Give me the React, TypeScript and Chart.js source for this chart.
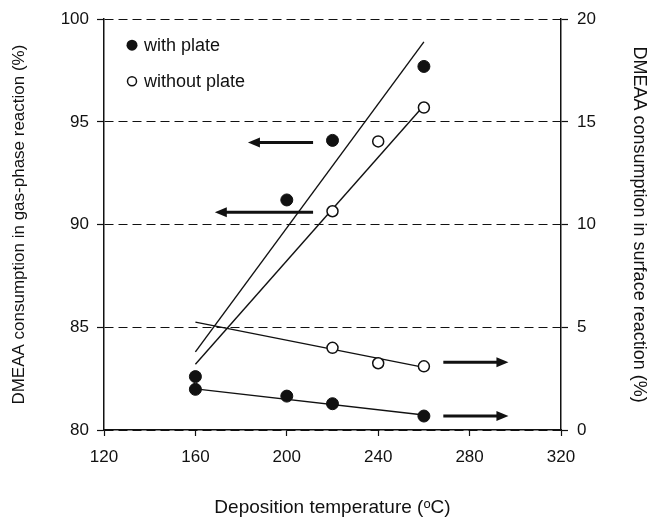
import React, { useEffect, useRef } from "react";
import { Chart, registerables } from "chart.js";

Chart.register(...registerables);

// ---- data ----
const tempsWith = [160, 200, 220, 260];
const gasWithPlate = [82.6, 91.2, 94.1, 97.7];
const surfWithPlate = [1.98, 1.65, 1.28, 0.68];

const tempsWithout = [220, 240, 260];
const gasWithoutPlate = [90.65, 94.05, 95.7];
const surfWithoutPlate = [4.0, 3.25, 3.1];

const fitX = [160, 260];
const gasFitWith = [83.8, 98.9];
const gasFitWithout = [83.2, 95.8];
const surfFitWith = [2.0, 0.73];
const surfFitWithout = [5.25, 3.05];

// arrows: y value (on its axis), start x, tip x
const gasArrowY = [94.0, 90.6];
const gasArrowFrom = [211.5, 211.5];
const gasArrowTo = [183, 168.5];
const surfArrowY = [3.3, 0.68];
const surfArrowFrom = [268.5, 268.5];
const surfArrowTo = [297, 297];

const legendLabels = ["with plate", "without plate"];

const xTitle = "Deposition temperature (ᵒC)";
const yTitle = "DMEAA consumption in gas-phase reaction (%)";
const y2Title = "DMEAA consumption in surface reaction (%)";

const FONT = "'Liberation Sans', Arial, Helvetica, sans-serif";
const INK = "#111";

const toPts = (xs: number[], ys: number[]) => xs.map((x, i) => ({ x, y: ys[i] }));

const arrowPlugin = {
  id: "arrows",
  afterDatasetsDraw(chart: any) {
    const { ctx, scales } = chart;
    const draw = (yScale: any, ys: number[], from: number[], to: number[]) => {
      ys.forEach((yv, i) => {
        const y = yScale.getPixelForValue(yv);
        const x0 = scales.x.getPixelForValue(from[i]);
        const x1 = scales.x.getPixelForValue(to[i]);
        const dir = x1 > x0 ? 1 : -1;
        const headLen = 12;
        const headHalf = 5;
        ctx.save();
        ctx.strokeStyle = INK;
        ctx.fillStyle = INK;
        ctx.lineWidth = 3;
        ctx.beginPath();
        ctx.moveTo(x0, y);
        ctx.lineTo(x1 - dir * headLen + dir * 1, y);
        ctx.stroke();
        ctx.beginPath();
        ctx.moveTo(x1, y);
        ctx.lineTo(x1 - dir * headLen, y - headHalf);
        ctx.lineTo(x1 - dir * headLen, y + headHalf);
        ctx.closePath();
        ctx.fill();
        ctx.restore();
      });
    };
    draw(scales.y, gasArrowY, gasArrowFrom, gasArrowTo);
    draw(scales.y2, surfArrowY, surfArrowFrom, surfArrowTo);
  },
};

const legendPlugin = {
  id: "customLegend",
  afterDraw(chart: any) {
    const { ctx, chartArea } = chart;
    const x = chartArea.left + 28;
    const y0 = chartArea.top + 26;
    const gap = 36;
    ctx.save();
    ctx.font = `18px ${FONT}`;
    ctx.textBaseline = "middle";
    ctx.textAlign = "left";
    legendLabels.forEach((label, i) => {
      const y = y0 + i * gap;
      ctx.beginPath();
      if (i === 0) {
        ctx.arc(x, y, 5.5, 0, Math.PI * 2);
        ctx.fillStyle = INK;
        ctx.fill();
      } else {
        ctx.arc(x, y, 4.5, 0, Math.PI * 2);
        ctx.fillStyle = "#fff";
        ctx.fill();
        ctx.lineWidth = 1.5;
        ctx.strokeStyle = INK;
        ctx.stroke();
      }
      ctx.fillStyle = INK;
      ctx.fillText(label, x + 12, y + 1);
    });
    ctx.restore();
  },
};

export default function App() {
  const ref = useRef<HTMLCanvasElement | null>(null);

  useEffect(() => {
    if (!ref.current) return;
    const filled = {
      showLine: false,
      pointRadius: 6,
      pointHoverRadius: 6,
      pointBackgroundColor: INK,
      pointBorderColor: INK,
      pointBorderWidth: 1,
      order: 0,
    };
    const open = {
      showLine: false,
      pointRadius: 5.5,
      pointHoverRadius: 5.5,
      pointBackgroundColor: "#fff",
      pointBorderColor: INK,
      pointBorderWidth: 1.5,
      order: 0,
    };
    const fit = {
      showLine: true,
      pointRadius: 0,
      borderColor: INK,
      borderWidth: 1.4,
      fill: false,
      order: 1,
    };
    const chart = new Chart(ref.current, {
      type: "scatter",
      data: {
        datasets: [
          { label: "gas with plate", data: toPts(tempsWith, gasWithPlate), yAxisID: "y", ...filled },
          { label: "gas without plate", data: toPts(tempsWithout, gasWithoutPlate), yAxisID: "y", ...open },
          { label: "surf with plate", data: toPts(tempsWith, surfWithPlate), yAxisID: "y2", ...filled },
          { label: "surf without plate", data: toPts(tempsWithout, surfWithoutPlate), yAxisID: "y2", ...open },
          { label: "fit1", data: toPts(fitX, gasFitWith), yAxisID: "y", ...fit },
          { label: "fit2", data: toPts(fitX, gasFitWithout), yAxisID: "y", ...fit },
          { label: "fit3", data: toPts(fitX, surfFitWith), yAxisID: "y2", ...fit },
          { label: "fit4", data: toPts(fitX, surfFitWithout), yAxisID: "y2", ...fit },
        ] as any,
      },
      options: {
        animation: false,
        responsive: false,
        maintainAspectRatio: false,
        layout: { padding: { top: 17, left: 0, right: 0, bottom: 0 } },
        plugins: { legend: { display: false }, tooltip: { enabled: false } },
        scales: {
          x: {
            type: "linear",
            min: 120,
            max: 320,
            ticks: { stepSize: 40, color: INK, font: { family: FONT, size: 17 }, padding: 11 },
            grid: { drawOnChartArea: false, tickLength: 6, tickColor: INK, tickWidth: 1.2 },
            border: { color: INK, width: 1.5 },
            title: { display: true, text: xTitle, color: INK, font: { family: FONT, size: 19 }, padding: { top: 0, bottom: 2 } },
            afterFit: (s: any) => { s.height = 91; },
          },
          y: {
            type: "linear",
            position: "left",
            min: 80,
            max: 100,
            ticks: { stepSize: 5, color: INK, font: { family: FONT, size: 17 }, padding: 8 },
            grid: { color: INK, lineWidth: 1, tickLength: 7, tickColor: INK, tickWidth: 1.2, tickBorderDash: [] },
            border: { color: INK, width: 1.5, dash: [9, 5] },
            title: { display: true, text: yTitle, color: INK, font: { family: FONT, size: 17 }, padding: { top: 9, bottom: 0 } },
            afterFit: (s: any) => { s.width = 104; },
          },
          y2: {
            type: "linear",
            position: "right",
            min: 0,
            max: 20,
            ticks: { stepSize: 5, color: INK, font: { family: FONT, size: 17 }, padding: 9 },
            grid: { drawOnChartArea: false, tickLength: 7, tickColor: INK, tickWidth: 1.2 },
            border: { color: INK, width: 1.5 },
            title: { display: true, text: y2Title, color: INK, font: { family: FONT, size: 18 }, padding: { top: 0, bottom: 0 } },
            afterFit: (s: any) => { s.width = 89; },
          },
        },
      } as any,
      plugins: [arrowPlugin, legendPlugin],
    });
    return () => chart.destroy();
  }, []);

  return (
    <div style={{ position: "absolute", left: 0, top: 0, width: 650, height: 521, background: "#fff" }}>
      <canvas ref={ref} width={650} height={521} style={{ width: 650, height: 521, display: "block" }} />
    </div>
  );
}
